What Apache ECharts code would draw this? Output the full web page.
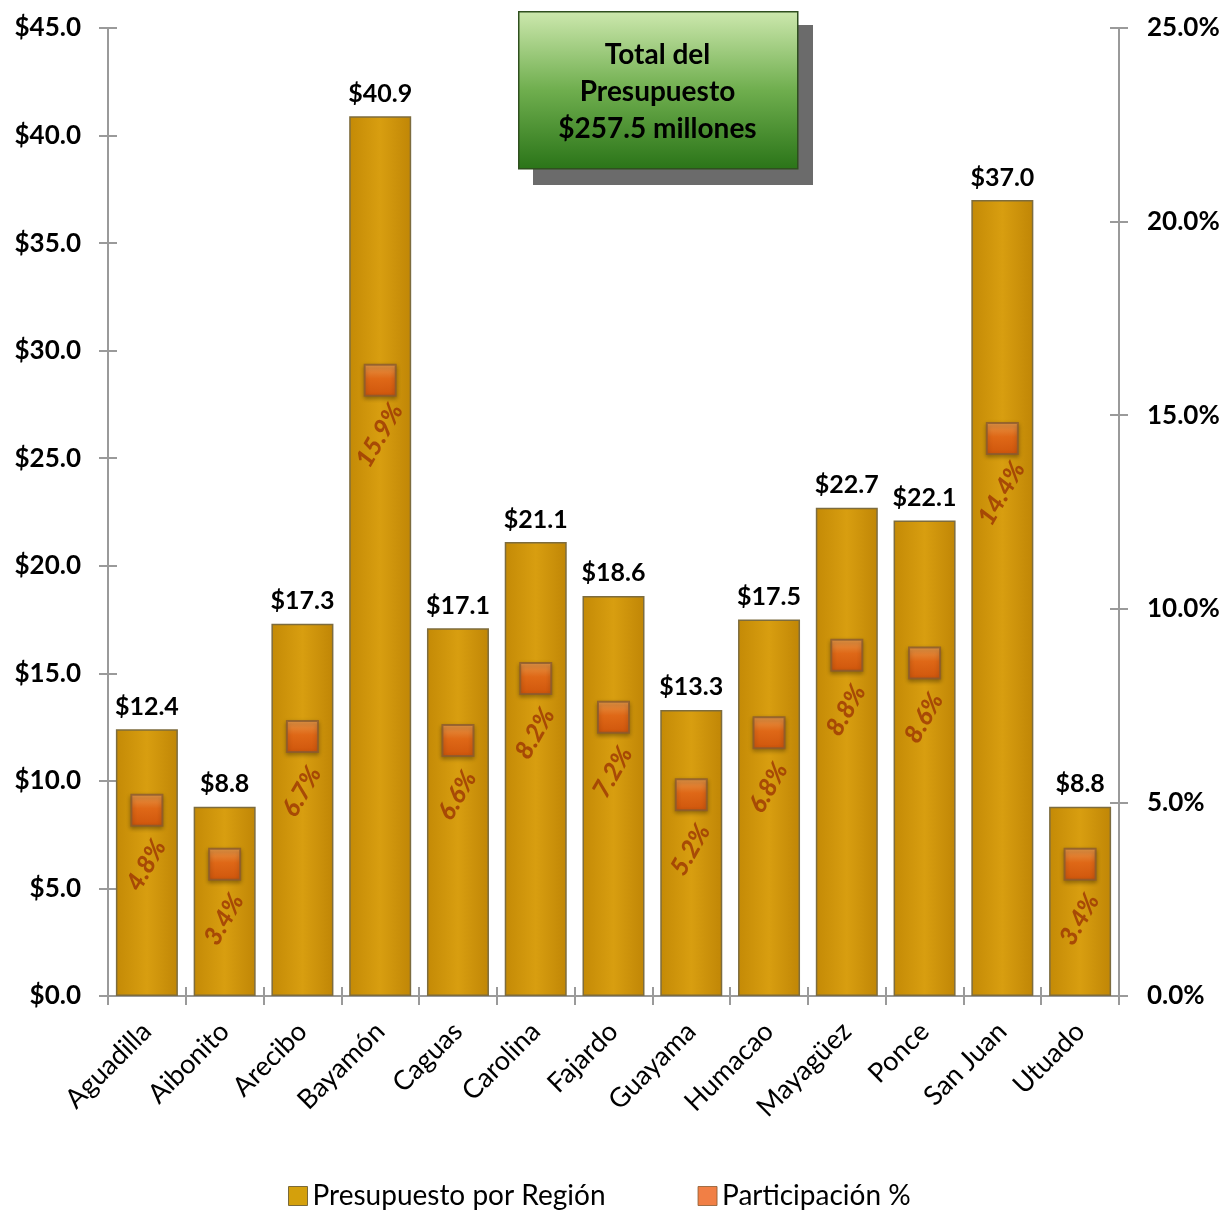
<!DOCTYPE html>
<html>
<head>
<meta charset="utf-8">
<script src="https://cdn.jsdelivr.net/npm/echarts@6/dist/echarts.min.js"></script>
<style>
  html, body { margin: 0; padding: 0; background: #fff; }
  #chart { width: 1230px; height: 1214px; }
</style>
</head>
<body>
<div id="chart"></div>
<script>
// regiones y valores (millones de dólares / % del total)
var regions = ['Aguadilla', 'Aibonito', 'Arecibo', 'Bayamón', 'Caguas', 'Carolina', 'Fajardo',
  'Guayama', 'Humacao', 'Mayagüez', 'Ponce', 'San Juan', 'Utuado']
var budget = [12.4, 8.8, 17.3, 40.9, 17.1, 21.1, 18.6, 13.3, 17.5, 22.7, 22.1, 37.0, 8.8]
var share = [4.8, 3.4, 6.7, 15.9, 6.6, 8.2, 7.2, 5.2, 6.8, 8.8, 8.6, 14.4, 3.4]
var totalText = 'Total del\nPresupuesto\n$257.5 millones'

var FONT = 'Lato, "Open Sans", sans-serif'
var AXIS_GRAY = '#9a9a9a'

var chart = echarts.init(document.getElementById('chart'))

var barColor = new echarts.graphic.LinearGradient(0, 0, 1, 0, [
  { offset: 0, color: '#c48a06' },
  { offset: 0.5, color: '#d89e10' },
  { offset: 1, color: '#c08606' }
])
var markColor = new echarts.graphic.LinearGradient(0, 0, 0, 1, [
  { offset: 0, color: '#f9a35a' },
  { offset: 0.45, color: '#f0661a' },
  { offset: 1, color: '#dc4f0c' }
])

// ticks that cross the axis line: one axis draws outside, a twin draws inside
function tickOnly(extra) {
  return Object.assign({
    axisLine: { show: false },
    axisLabel: { show: false },
    splitLine: { show: false },
    axisTick: { show: true, inside: true, length: 9, lineStyle: { color: AXIS_GRAY, width: 2 } }
  }, extra)
}

chart.setOption({
  backgroundColor: '#fff',
  textStyle: { fontFamily: FONT },
  grid: { left: 108, right: 111, top: 28, bottom: 218 },
  legend: {
    bottom: -1,
    left: 283,
    itemGap: 92,
    itemWidth: 19,
    itemHeight: 19,
    itemTextGap: 6,
    textStyle: { fontSize: 28, color: '#000', fontFamily: FONT },
    data: [
      { name: 'Presupuesto por Región', icon: 'rect', itemStyle: { color: '#d4a00c', borderColor: '#7a6a3a', borderWidth: 1 } },
      { name: 'Participación %', icon: 'rect', itemStyle: { color: '#ee5f16', borderColor: '#8a5a30', borderWidth: 1 } }
    ]
  },
  xAxis: [
    {
      type: 'category',
      data: regions,
      axisLine: { lineStyle: { color: AXIS_GRAY, width: 2 } },
      axisTick: { show: true, length: 9, lineStyle: { color: AXIS_GRAY, width: 2 } },
      axisLabel: { rotate: 45, fontSize: 27, color: '#000', margin: 31, fontFamily: FONT }
    },
    tickOnly({ type: 'category', data: regions, position: 'bottom' })
  ],
  yAxis: [
    {
      type: 'value',
      min: 0, max: 45, interval: 5,
      axisLine: { show: true, lineStyle: { color: AXIS_GRAY, width: 2 } },
      axisTick: { show: true, length: 9, lineStyle: { color: AXIS_GRAY, width: 2 } },
      splitLine: { show: false },
      axisLabel: {
        fontSize: 26, fontWeight: 'bold', color: '#000', margin: 27, fontFamily: FONT,
        formatter: function (v) { return '$' + v.toFixed(1) }
      }
    },
    {
      type: 'value',
      min: 0, max: 25, interval: 5,
      position: 'right',
      axisLine: { show: true, lineStyle: { color: AXIS_GRAY, width: 2 } },
      axisTick: { show: true, length: 9, lineStyle: { color: AXIS_GRAY, width: 2 } },
      splitLine: { show: false },
      axisLabel: {
        fontSize: 26, fontWeight: 'bold', color: '#000', margin: 28, fontFamily: FONT,
        formatter: function (v) { return v.toFixed(1) + '%' }
      }
    },
    tickOnly({ type: 'value', min: 0, max: 45, interval: 5, position: 'left', offset: 0 }),
    tickOnly({ type: 'value', min: 0, max: 25, interval: 5, position: 'right', offset: 0 })
  ],
  series: [
    {
      name: 'Presupuesto por Región',
      type: 'bar',
      data: budget,
      barWidth: 62,
      itemStyle: { color: barColor, borderColor: '#7d6c3e', borderWidth: 1.5 },
      label: {
        show: true, position: 'top', distance: 10,
        fontSize: 25, fontWeight: 'bold', color: '#000', fontFamily: FONT,
        formatter: function (p) { return '$' + p.value.toFixed(1) }
      },
      z: 2
    },
    {
      name: 'Participación %',
      type: 'scatter',
      yAxisIndex: 1,
      data: share,
      symbol: 'rect',
      symbolSize: 31,
      itemStyle: {
        color: markColor, borderColor: '#8a5a30', borderWidth: 2,
        shadowColor: 'rgba(0,0,0,0.35)', shadowBlur: 4, shadowOffsetY: 2
      },
      label: {
        show: true, position: 'inside', rotate: 60, offset: [-48, 27],
        fontSize: 25, fontWeight: 900, fontStyle: 'italic', color: '#9c3604', fontFamily: FONT,
        formatter: function (p) { return p.value.toFixed(1) + '%' }
      },
      z: 5
    }
  ],
  graphic: [
    {
      type: 'rect', left: 533, top: 25, z: 10,
      shape: { width: 280, height: 160 },
      style: { fill: '#6b6b6b' }
    },
    {
      type: 'rect', left: 518, top: 11, z: 11,
      shape: { width: 279, height: 157 },
      style: {
        fill: new echarts.graphic.LinearGradient(0, 0, 0, 1, [
          { offset: 0, color: '#cde8ae' },
          { offset: 0.5, color: '#6fae4e' },
          { offset: 1, color: '#2a7418' }
        ]),
        stroke: '#2f4f1f', lineWidth: 1.5
      }
    },
    {
      type: 'text', left: 518, top: 36, z: 12,
      style: {
        text: totalText, width: 279, align: 'center',
        font: 'bold 28px ' + FONT, fill: '#000', lineHeight: 37,
        x: 139.5, textAlign: 'center'
      }
    }
  ]
})
</script>
</body>
</html>
